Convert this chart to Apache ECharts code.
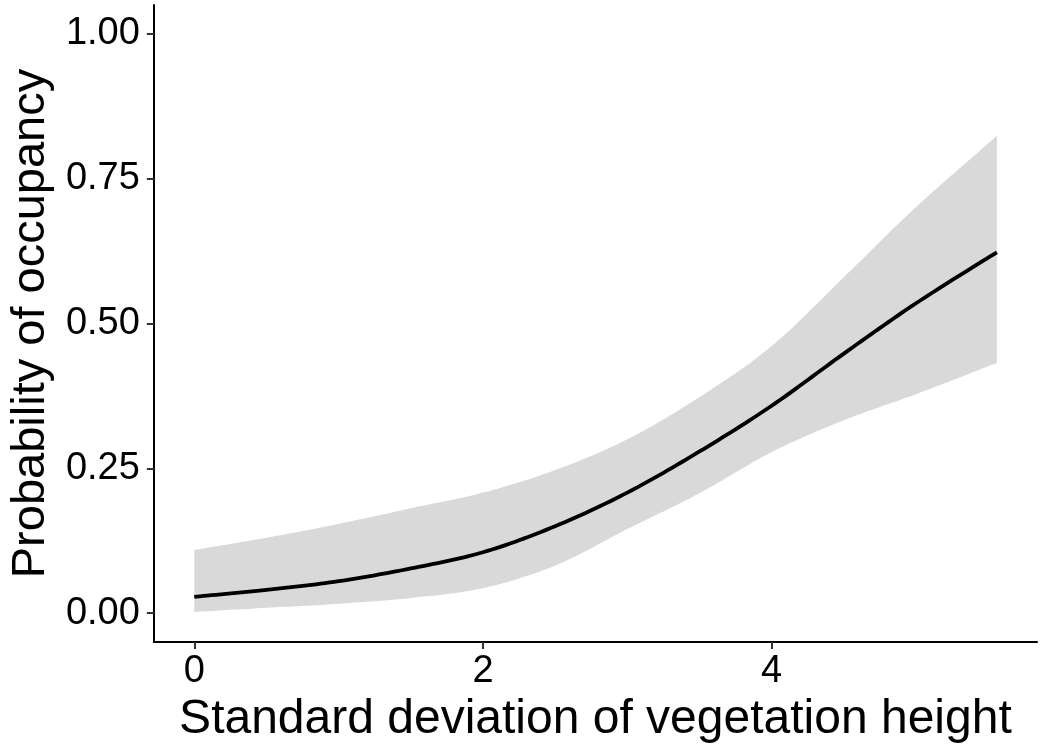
<!DOCTYPE html>
<html>
<head>
<meta charset="utf-8">
<script src="https://cdn.jsdelivr.net/npm/echarts@6/dist/echarts.min.js"></script>
<style>
html,body{margin:0;padding:0;background:#fff;}
#chart{width:1045px;height:751px;}
</style>
</head>
<body>
<div id="chart"></div>
<script>
// Data
const xValues   = [0,     0.5,   1,     1.5,   2,     2.5,   3,     3.5,   4,     4.5,   5,     5.56];
const fitValues = [0.028, 0.040, 0.055, 0.077, 0.105, 0.150, 0.208, 0.279, 0.358, 0.448, 0.535, 0.623];
const upperCI   = [0.109, 0.130, 0.154, 0.181, 0.208, 0.247, 0.300, 0.373, 0.461, 0.580, 0.701, 0.824];
const lowerCI   = [0.002, 0.009, 0.016, 0.026, 0.043, 0.082, 0.145, 0.207, 0.278, 0.333, 0.378, 0.432];
const xTicks = [0, 2, 4];
const yTicks = [0, 0.25, 0.5, 0.75, 1.0];
const xTitle = 'Standard deviation of vegetation height';
const yTitle = 'Probability of occupancy';

// Smooth a list of pixel points with a Catmull-Rom spline (rendering only)
function smoothPixels(pts, steps) {
  const out = [];
  const n = pts.length;
  for (let i = 0; i < n - 1; i++) {
    const p0 = pts[Math.max(i - 1, 0)], p1 = pts[i], p2 = pts[i + 1], p3 = pts[Math.min(i + 2, n - 1)];
    const c1 = [p1[0] + (p2[0] - p0[0]) / 6, p1[1] + (p2[1] - p0[1]) / 6];
    const c2 = [p2[0] - (p3[0] - p1[0]) / 6, p2[1] - (p3[1] - p1[1]) / 6];
    for (let s = 0; s < steps; s++) {
      const t = s / steps, u = 1 - t;
      out.push([
        u*u*u*p1[0] + 3*u*u*t*c1[0] + 3*u*t*t*c2[0] + t*t*t*p2[0],
        u*u*u*p1[1] + 3*u*u*t*c1[1] + 3*u*t*t*c2[1] + t*t*t*p2[1]
      ]);
    }
  }
  out.push(pts[n - 1]);
  return out;
}

const font = "'Liberation Sans', Arial, sans-serif";
const chart = echarts.init(document.getElementById('chart'), null, {renderer: 'canvas'});
chart.setOption({
  animation: false,
  backgroundColor: '#ffffff',
  grid: {left: 153, right: 8, top: 5, bottom: 109, containLabel: false},
  xAxis: {
    type: 'value', min: -0.28, max: 5.838,
    name: xTitle, nameLocation: 'middle', nameGap: 51,
    nameTextStyle: {fontFamily: font, fontSize: 48, color: '#000'},
    axisLine: {show: true, onZero: false, lineStyle: {color: '#000', width: 2}},
    axisTick: {show: true, length: 7, customValues: xTicks, lineStyle: {color: '#333', width: 2}},
    axisLabel: {show: true, customValues: xTicks, margin: 11, fontFamily: font, fontSize: 38, color: '#000',
      formatter: v => String(v)},
    splitLine: {show: false}
  },
  yAxis: {
    type: 'value', min: -0.05, max: 1.05,
    name: yTitle, nameLocation: 'middle', nameGap: 95, nameRotate: 90,
    nameTextStyle: {fontFamily: font, fontSize: 47, color: '#000'},
    axisLine: {show: true, onZero: false, lineStyle: {color: '#000', width: 2}},
    axisTick: {show: true, length: 7, customValues: yTicks, lineStyle: {color: '#333', width: 2}},
    axisLabel: {show: true, customValues: yTicks, margin: 14, fontFamily: font, fontSize: 38, color: '#000',
      formatter: v => v.toFixed(2)},
    splitLine: {show: false}
  },
  series: [
    {
      type: 'custom',
      coordinateSystem: 'cartesian2d',
      data: xValues.map((x, i) => [x, fitValues[i]]),
      silent: true,
      renderItem: function (params, api) {
        if (params.dataIndex !== 0) return null;
        const up = smoothPixels(xValues.map((x, i) => api.coord([x, upperCI[i]])), 16);
        const lo = smoothPixels(xValues.map((x, i) => api.coord([x, lowerCI[i]])), 16);
        const fit = smoothPixels(xValues.map((x, i) => api.coord([x, fitValues[i]])), 16);
        const band = up.concat(lo.slice().reverse());
        return {
          type: 'group',
          children: [
            {type: 'polygon', shape: {points: band}, style: {fill: '#d9d9d9', stroke: null}, z2: 1},
            {type: 'polyline', shape: {points: fit}, style: {stroke: '#000', lineWidth: 3.8, fill: null, lineJoin: 'round'}, z2: 2}
          ]
        };
      }
    }
  ]
});
</script>
</body>
</html>
